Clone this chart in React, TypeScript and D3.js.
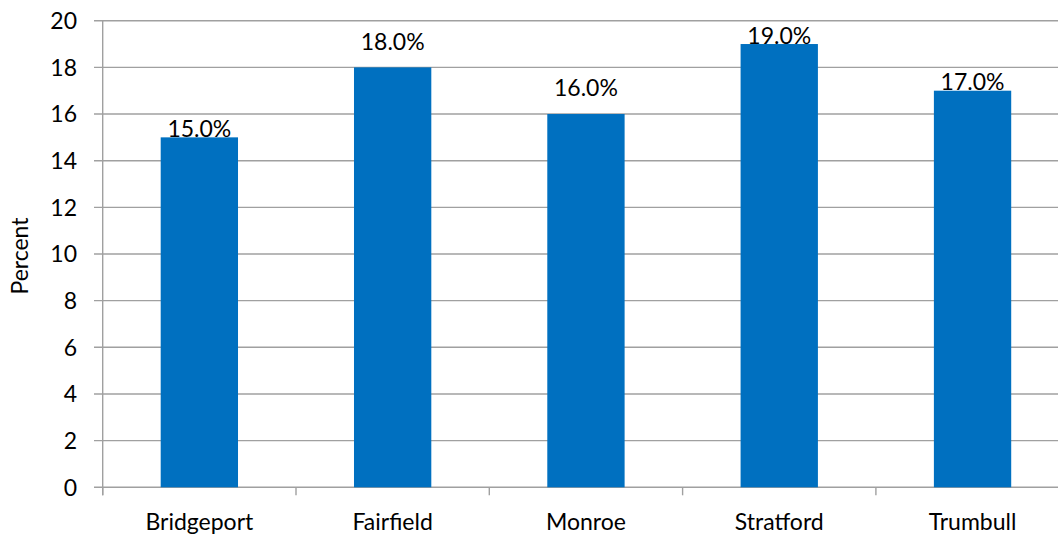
import React from "react";
import * as d3 from "d3";

const categories = ["Bridgeport", "Fairfield", "Monroe", "Stratford", "Trumbull"];
const values = [15.0, 18.0, 16.0, 19.0, 17.0];
const yTicks = [0, 2, 4, 6, 8, 10, 12, 14, 16, 18, 20];
const yLabel = "Percent";

// style: extra lift of each data label above its bar (px)
const LABEL_LIFT = [0, 17, 18, 0, 0];

const W = 1058;
const H = 536;
const FONT = "Lato, 'Open Sans', sans-serif";
const FS = 23;

export default function App() {
  const x = d3.scaleBand<string>().domain(categories).range([102.7, 1069.2]).paddingInner(0.6).paddingOuter(0.3);
  const xb = d3.scaleBand<string>().domain(categories).range([102.7, 1069.2]).padding(0);
  const y = d3.scaleLinear().domain([0, 20]).range([487.3, 20.7]);
  const x0 = 102.7;
  const grid = "#a0a0a0";
  const boundaries = categories.map((c) => xb(c)!).concat([xb.range()[1]]);

  return (
    <svg width={W} height={H} style={{ position: "absolute", left: 0, top: 0, background: "#fff" }}>
      {yTicks.map((t) => (
        <g key={t}>
          <line x1={94} x2={W} y1={y(t)} y2={y(t)} stroke={grid} strokeWidth={1.4} />
          <text x={77} y={y(t) + 8.2} textAnchor="end" fontFamily={FONT} fontSize={FS} fill="#000">
            {t}
          </text>
        </g>
      ))}
      <line x1={x0} x2={x0} y1={y(20)} y2={y(0) + 8} stroke={grid} strokeWidth={1.4} />
      {boundaries.map((b, i) => (
        <line key={i} x1={b} x2={b} y1={y(0)} y2={y(0) + 8} stroke={grid} strokeWidth={1.4} />
      ))}
      {categories.map((c, i) => {
        const bx = x(c)!;
        const bw = x.bandwidth();
        return (
          <g key={c}>
            <rect x={bx} y={y(values[i])} width={bw} height={y(0) - y(values[i])} fill="#0070C0" />
            <text
              x={bx + bw / 2}
              y={y(values[i]) - 0.5 - LABEL_LIFT[i]}
              textAnchor="middle"
              fontFamily={FONT}
              fontSize={FS}
              fill="#000"
            >
              {values[i].toFixed(1) + "%"}
            </text>
            <text x={xb(c)! + xb.bandwidth() / 2} y={530} textAnchor="middle" fontFamily={FONT} fontSize={FS} fill="#000">
              {c}
            </text>
          </g>
        );
      })}
      <text
        transform={`translate(28,256) rotate(-90)`}
        textAnchor="middle"
        fontFamily={FONT}
        fontSize={FS}
        fill="#000"
      >
        {yLabel}
      </text>
    </svg>
  );
}
